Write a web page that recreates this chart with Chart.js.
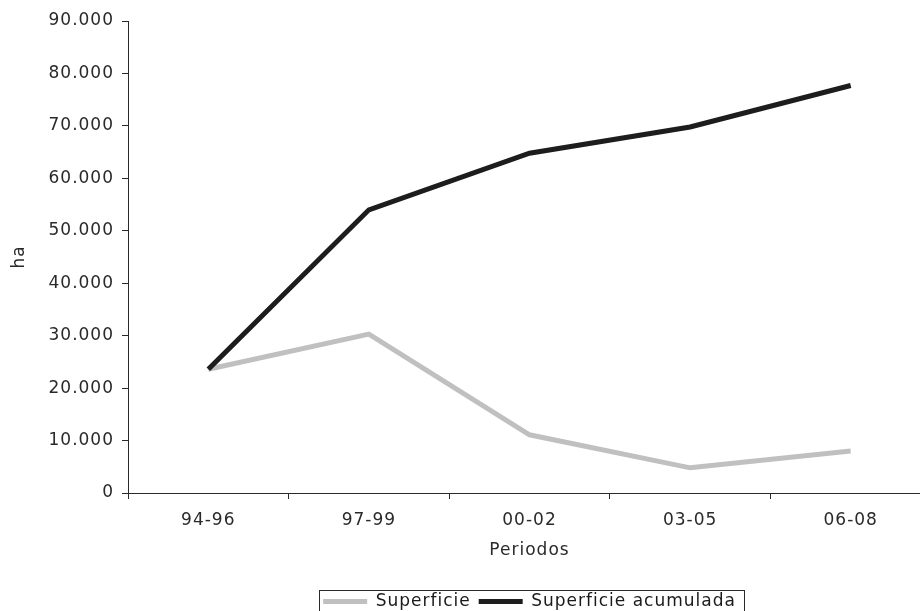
<!DOCTYPE html>
<html>
<head>
<meta charset="utf-8">
<script src="https://cdn.jsdelivr.net/npm/chart.js@4"></script>
<style>
  html, body { margin: 0; padding: 0; overflow: hidden; background: #ffffff; }
  #wrap { position: absolute; left: 0; top: 0; width: 931px; height: 640px; }
</style>
</head>
<body>
<div id="wrap"><canvas id="chart" width="931" height="640"></canvas></div>
<script>
// Periods and surface values (ha)
const periodos = ['94-96', '97-99', '00-02', '03-05', '06-08'];
const superficie = [23600, 30300, 11100, 4800, 8000];
const superficieAcumulada = [23600, 54000, 64800, 69800, 77700];

// Value axis range
const yMin = 0;
const yMax = 90000;
const yStep = 10000;

const INK = '#2a2a2a';
const GRAY = '#c0c0c0';
const BLACK = '#1e1c1d';

// Thousands separated with a dot: 90.000
function miles(v) {
  return String(v).replace(/\B(?=(\d{3})+(?!\d))/g, '.');
}

Chart.defaults.font.family = '"DejaVu Sans", Verdana, sans-serif';
Chart.defaults.font.size = 17;
Chart.defaults.color = INK;

// Slightly tracked lettering for every label on the canvas
const tracking = {
  id: 'tracking',
  beforeUpdate(chart) { chart.ctx.letterSpacing = '1px'; },
  beforeDraw(chart) { chart.ctx.letterSpacing = '1px'; }
};

// Thin frame around the legend entries
const legendFrame = {
  id: 'legendFrame',
  afterDraw(chart) {
    const boxes = chart.legend && chart.legend.legendHitBoxes;
    if (!boxes || !boxes.length) return;
    const left = Math.min(...boxes.map(b => b.left)) - 4;
    const right = Math.max(...boxes.map(b => b.left + b.width)) + 8;
    const top = Math.min(...boxes.map(b => b.top)) - 3;
    const bottom = Math.max(...boxes.map(b => b.top + b.height)) + 3;
    const ctx = chart.ctx;
    ctx.save();
    ctx.strokeStyle = INK;
    ctx.lineWidth = 1;
    ctx.strokeRect(Math.round(left) + 0.5, Math.round(top) + 0.5,
                   Math.round(right - left), Math.round(bottom - top));
    ctx.restore();
  }
};

new Chart(document.getElementById('chart'), {
  type: 'line',
  data: {
    labels: periodos,
    datasets: [
      {
        label: 'Superficie',
        data: superficie,
        borderColor: GRAY,
        backgroundColor: GRAY,
        borderWidth: 5,
        pointRadius: 0,
        tension: 0,
        borderJoinStyle: 'miter',
        borderCapStyle: 'butt',
        fill: false,
        order: 1
      },
      {
        label: 'Superficie acumulada',
        data: superficieAcumulada,
        borderColor: BLACK,
        backgroundColor: BLACK,
        borderWidth: 5,
        pointRadius: 0,
        tension: 0,
        borderJoinStyle: 'miter',
        borderCapStyle: 'butt',
        fill: false,
        order: 0
      }
    ]
  },
  options: {
    responsive: false,
    animation: false,
    devicePixelRatio: 1,
    layout: { padding: { top: 21, left: 0, right: 0, bottom: 20 } },
    plugins: {
      tooltip: { enabled: false },
      title: { display: false },
      legend: {
        display: true,
        position: 'bottom',
        fullSize: false,
        align: 'center',
        labels: {
          boxWidth: 44,
          boxHeight: 5,
          padding: 8,
          color: '#1a1a1a',
          font: { size: 17 },
          sort: (a, b) => a.datasetIndex - b.datasetIndex,
          generateLabels(chart) {
            return Chart.defaults.plugins.legend.labels.generateLabels(chart).map(item => {
              item.fillStyle = item.strokeStyle;
              item.lineWidth = 0;
              return item;
            });
          }
        }
      }
    },
    scales: {
      x: {
        type: 'category',
        offset: true,
        border: { display: true, color: INK, width: 1 },
        grid: {
          display: true,
          offset: true,
          drawOnChartArea: false,
          drawTicks: true,
          tickLength: 6,
          color: INK,
          lineWidth: 1
        },
        ticks: { padding: 11, color: INK, font: { size: 17 }, maxRotation: 0 },
        title: {
          display: true,
          text: 'Periodos',
          color: INK,
          font: { size: 17 },
          padding: { top: 0, bottom: 24 }
        },
        afterFit(scale) { scale.height = 92; }
      },
      y: {
        min: yMin,
        max: yMax,
        border: { display: true, color: INK, width: 1 },
        grid: {
          display: true,
          drawOnChartArea: false,
          drawTicks: true,
          tickLength: 6,
          color: INK,
          lineWidth: 1
        },
        ticks: {
          stepSize: yStep,
          padding: 8,
          color: INK,
          font: { size: 17 },
          callback: v => miles(v)
        },
        title: {
          display: true,
          text: 'ha',
          color: INK,
          font: { size: 17 },
          padding: { top: 9, bottom: 0 }
        },
        afterFit(scale) { scale.width = 128; }
      }
    }
  },
  plugins: [tracking, legendFrame]
});
</script>
</body>
</html>
